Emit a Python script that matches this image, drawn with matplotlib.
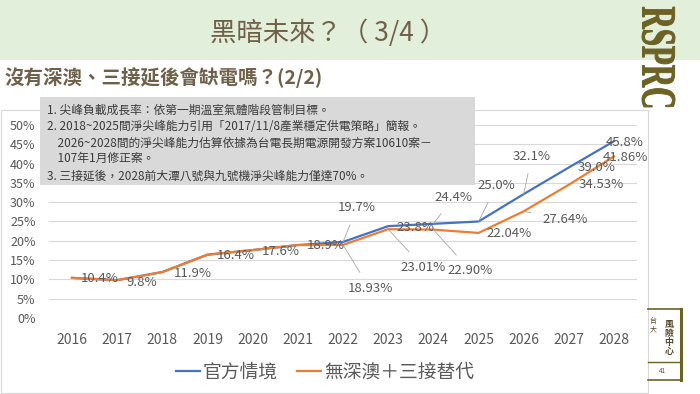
import matplotlib
matplotlib.use("Agg")
import matplotlib.pyplot as plt
from matplotlib.patches import Rectangle, PathPatch
from matplotlib.textpath import TextPath
from matplotlib.font_manager import FontProperties
from matplotlib.transforms import Affine2D
from matplotlib.lines import Line2D

plt.rcParams['font.family'] = ['Noto Sans CJK TC', 'DejaVu Sans']

# ---------------- data ----------------
years = [2016, 2017, 2018, 2019, 2020, 2021, 2022, 2023, 2024, 2025, 2026, 2027, 2028]
official = [10.4, 9.8, 11.9, 16.4, 17.6, 18.9, 19.7, 23.8, 24.4, 25.0, 32.1, 39.0, 45.8]
alternative = [10.4, 9.8, 11.9, 16.4, 17.6, 18.9, 18.93, 23.01, 22.90, 22.04, 27.64, 34.53, 41.86]
official_labels = ["10.4%", "9.8%", "11.9%", "16.4%", "17.6%", "18.9%", "19.7%",
                   "23.8%", "24.4%", "25.0%", "32.1%", "39.0%", "45.8%"]
alt_label_years = [2022, 2023, 2024, 2025, 2026, 2027, 2028]
alt_labels = ["18.93%", "23.01%", "22.90%", "22.04%", "27.64%", "34.53%", "41.86%"]
series_names = ["官方情境", "無深澳＋三接替代"]
yticks = [0, 5, 10, 15, 20, 25, 30, 35, 40, 45, 50]
title = "黑暗未來？（ 3/4 ）"
subtitle = "沒有深澳、三接延後會缺電嗎？(2/2)"
notes = [
    "1. 尖峰負載成長率：依第一期溫室氣體階段管制目標。",
    "2. 2018~2025間淨尖峰能力引用「2017/11/8產業穩定供電策略」簡報。",
    "    2026~2028間的淨尖峰能力估算依據為台電長期電源開發方案10610案－",
    "    107年1月修正案。",
    "3. 三接延後，2028前大潭八號與九號機淨尖峰能力僅達70%。",
]

# ---------------- layout (pixel offsets of labels from points) ----------------
off_official = [(28, 1), (25, 2), (30, 1), (28, 1), (28, 1), (28, 0), (14, -34),
                (27, 1), (20, -26), (18, -36), (8, -38), (28, 0), (11, 1)]
lead_official = [False]*6 + [True, False, True, True, True, False, False]
off_alt = [(27, 44), (35, 38), (37, 41), (31, 1), (41, 8), (32, 0), (11, 1)]
lead_alt = [True, True, True, False, True, False, False]

W, H = 700, 394
fig = plt.figure(figsize=(7, 3.94), dpi=100)
fig.patch.set_facecolor("white")


def fx(x):
    return x / W


def fy(y):
    return 1 - y / H


# header band
fig.add_artist(Rectangle((0, fy(60)), 1, 60 / H, transform=fig.transFigure,
                         facecolor="#E2EFDA", edgecolor="none", zorder=0))
fig.text(fx(328), fy(33), title, ha="center", va="center", fontsize=19,
         color="#706048")
fig.text(fx(4), fy(78), subtitle, ha="left", va="center", fontsize=14,
         color="#6E6049", fontweight="bold")

# chart frame
fig.add_artist(Rectangle((fx(1), fy(393)), fx(647), (393 - 110) / H,
                         transform=fig.transFigure, facecolor="none",
                         edgecolor="#D9D9D9", lw=0.8, zorder=1))

# RSPRC logo
olive = "#6B6224"
tp = TextPath((0, 0), "RSPRC", size=100,
              prop=FontProperties(family="Liberation Serif", weight="bold"))
bb = tp.get_extents()
trans = (Affine2D().translate(-bb.x0, -bb.y0)
         .scale(100 / bb.width, 33 / bb.height)
         .rotate_deg(-90)
         .translate(642, H - 7)
         .scale(1 / W, 1 / H)) + fig.transFigure
fig.add_artist(PathPatch(tp, transform=trans, facecolor=olive,
                         edgecolor=olive, lw=0.7, zorder=5))

# bottom-right badge
for (x0, y0, x1, y1, lw) in [(648, 309, 681, 309, 1.2), (681, 309, 681, 380, 2.2),
                             (648, 362, 681, 362, 1.0), (648, 380, 681, 380, 1.2)]:
    fig.add_artist(Line2D([fx(x0), fx(x1)], [fy(y0), fy(y1)],
                          transform=fig.transFigure, color=olive, lw=lw, zorder=5))
fig.text(fx(669), fy(338), "風\n險\n中\n心", ha="center", va="center",
         fontsize=6.5, color="#5A4A2E", linespacing=1.0, fontweight="bold")
fig.text(fx(653), fy(325), "台\n大", ha="center", va="center",
         fontsize=5, color="#5A4A2E", linespacing=1.0)
fig.text(fx(662), fy(371), "41", ha="center", va="center", fontsize=4.5,
         color="#5A4A2E")

# main axes
ax = fig.add_axes([fx(49.4), fy(318), (636.6 - 49.4) / W, (318 - 125) / H])
ax.set_xlim(years[0] - 0.5, years[-1] + 0.5)
ax.set_ylim(0, 50)
ax.set_yticks(yticks)
ax.set_yticklabels([f"{v}%" for v in yticks])
ax.set_xticks(years)
ax.set_xticklabels([str(y) for y in years])
ax.tick_params(axis="both", length=0, colors="#595959")
ax.tick_params(axis="y", labelsize=9, pad=10)
ax.tick_params(axis="x", labelsize=10, pad=11)
for s in ax.spines.values():
    s.set_visible(False)
ax.grid(axis="y", color="#D9D9D9", lw=0.8)
ax.set_axisbelow(True)
ax.patch.set_alpha(0)

blue = "#4472C4"
orange = "#ED7D31"
ax.plot(years, official, color=blue, lw=1.6, label=series_names[0], zorder=3,
        solid_joinstyle="round")
ax.plot(years, alternative, color=orange, lw=1.6, label=series_names[1], zorder=3,
        solid_joinstyle="round")

lblc = "#595959"
lead_kw = dict(arrowstyle="-", color="#A6A6A6", lw=0.6, shrinkA=6, shrinkB=0)
for yr, v, lab, (dx, dy), lead in zip(years, official, official_labels,
                                      off_official, lead_official):
    ax.annotate(lab, (yr, v), xytext=(dx, -dy), textcoords="offset pixels",
                ha="center", va="center", fontsize=9.5, color=lblc, zorder=4,
                arrowprops=lead_kw if lead else None)
for yr, lab, (dx, dy), lead in zip(alt_label_years, alt_labels, off_alt, lead_alt):
    v = alternative[years.index(yr)]
    ax.annotate(lab, (yr, v), xytext=(dx, -dy), textcoords="offset pixels",
                ha="center", va="center", fontsize=9.5, color=lblc, zorder=4,
                arrowprops=lead_kw if lead else None)

leg = ax.legend(loc="center", bbox_to_anchor=(fx(325), fy(372)),
                bbox_transform=fig.transFigure, ncol=2, frameon=False,
                fontsize=13.5, handlelength=1.3, handletextpad=0.15,
                columnspacing=1.0)
for t in leg.get_texts():
    t.set_color(lblc)

# notes box
fig.add_artist(Rectangle((fx(40), fy(185)), fx(475 - 40), (185 - 97) / H,
                         transform=fig.transFigure, facecolor="#D9D9D9",
                         edgecolor="none", zorder=6))
for txt, yy in zip(notes, [110, 126, 143, 158, 176]):
    fig.text(fx(47), fy(yy), txt, ha="left", va="center", fontsize=8.5,
             color="#3A3A3A", zorder=7)

fig.savefig("out.png", dpi=100)
